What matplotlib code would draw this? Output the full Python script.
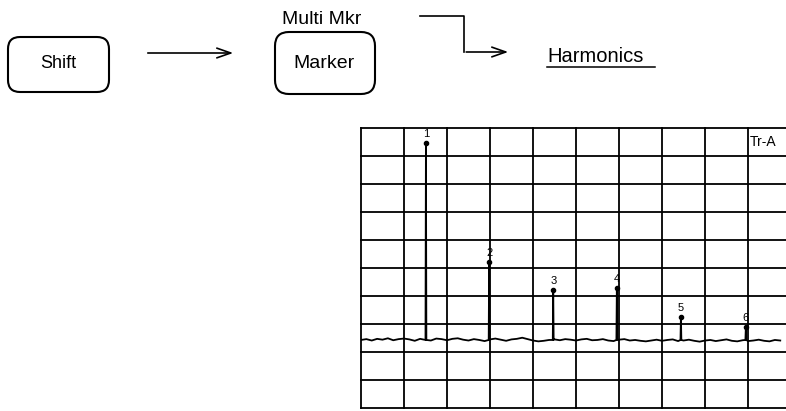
import matplotlib.pyplot as plt
from matplotlib.patches import FancyBboxPatch

# harmonic markers (grid divisions from lower-left corner)
peak_x = [1.51, 2.98, 4.47, 5.95, 7.44, 8.95]
peak_top = [9.46, 5.20, 4.20, 4.29, 3.25, 2.90]
peak_labels = ['1', '2', '3', '4', '5', '6']

# noise floor, one sample every 1/8 division
floor_level = 2.43
noise = [0.00, 0.03, -0.02, 0.04, 0.01, 0.06, -0.01, 0.03,
         0.05, 0.02, -0.03, 0.04, 0.00, -0.02, 0.05, 0.03,
         -0.01, 0.04, 0.06, 0.01, -0.02, 0.03, 0.00, -0.04,
         0.02, 0.05, 0.01, -0.03, 0.02, 0.04, 0.08, 0.03,
         -0.02, -0.05, -0.03, 0.00, 0.02, -0.01, 0.03, 0.01,
         -0.02, 0.02, 0.04, -0.01, 0.00, 0.03, -0.02, -0.04,
         0.01, 0.03, -0.02, 0.00, -0.03, -0.05, -0.02, 0.01,
         -0.03, 0.00, 0.02, -0.04, -0.02, 0.01, -0.03, -0.06,
         -0.02, 0.00, -0.04, -0.01, 0.02, -0.03, -0.05, -0.01,
         -0.04, -0.02, 0.01, -0.03, -0.05, 0.00, -0.02]

step = 0.125
pts = [(i * step, floor_level + v) for i, v in enumerate(noise)]
for px, top in zip(peak_x, peak_top):
    pts += [(px - 0.01, floor_level), (px, top), (px + 0.01, floor_level)]
pts.sort()
trace_x = [p[0] for p in pts]
trace_y = [p[1] for p in pts]

fig = plt.figure(figsize=(7.86, 4.11), dpi=100)
plt.rcParams['font.family'] = ['Liberation Sans', 'DejaVu Sans']

# whole-figure canvas in pixel units for the key sequence
canvas = fig.add_axes([0, 0, 1, 1])
canvas.set_xlim(0, 786)
canvas.set_ylim(411, 0)
canvas.axis('off')

canvas.add_patch(FancyBboxPatch((8, 37), 101, 55, boxstyle='round,pad=0,rounding_size=12',
                                fc='white', ec='black', lw=1.5))
canvas.text(58, 64, 'Shift', ha='center', va='center', fontsize=13)
canvas.annotate('', xy=(236, 53), xytext=(145, 53),
                arrowprops=dict(arrowstyle='->,head_length=1.0,head_width=0.35', lw=1.2, color='black'))

canvas.add_patch(FancyBboxPatch((275, 32), 100, 62, boxstyle='round,pad=0,rounding_size=14',
                                fc='white', ec='black', lw=1.5))
canvas.text(324, 63, 'Marker', ha='center', va='center', fontsize=14)
canvas.text(322, 19, 'Multi Mkr', ha='center', va='center', fontsize=14)

canvas.plot([420, 464, 464], [16, 16, 52], color='black', lw=1.2)
canvas.annotate('', xy=(511, 52), xytext=(463.4, 52),
                arrowprops=dict(arrowstyle='->,head_length=1.0,head_width=0.35', lw=1.2, color='black'))
canvas.text(547, 57, 'Harmonics', ha='left', va='center', fontsize=14.5)
canvas.plot([547, 655], [67, 67], color='black', lw=1.1)

# analyzer screen
ax = fig.add_axes([361 / 786, 3 / 411, 425 / 786, 280 / 411])
ax.set_xlim(0, 425 / 43)
ax.set_ylim(0, 10)
ax.axis('off')
for i in range(11):
    ax.axvline(i, color='black', lw=1.3, clip_on=False)
    ax.axhline(i, color='black', lw=1.3, clip_on=False)

ax.plot(trace_x, trace_y, color='black', lw=1.3)
ax.plot(peak_x, peak_top, 'o', color='black', ms=3)
for px, top, lab in zip(peak_x, peak_top, peak_labels):
    ax.text(px, top + 0.15, lab, ha='center', va='bottom', fontsize=8)
ax.text(9.05, 9.5, 'Tr-A', ha='left', va='center', fontsize=10)

fig.savefig('out.png', dpi=100)
